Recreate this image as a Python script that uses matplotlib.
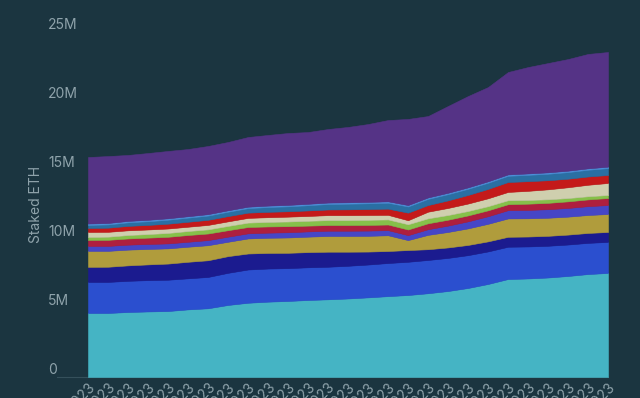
import numpy as np
import pandas as pd
import matplotlib
matplotlib.use("Agg")
import matplotlib.pyplot as plt

# weekly dates (labels are mostly cut off at the bottom, only the "23" shows)
dates = pd.date_range("2023-01-02", periods=27, freq="7D")
labels = [d.strftime("%b %d, %Y") for d in dates]

# staked ETH per entity, in millions (bottom layer first)
cyan = [4.64, 4.64, 4.71, 4.75, 4.78, 4.90, 4.98, 5.22, 5.38, 5.46, 5.51, 5.58, 5.63, 5.69,
        5.77, 5.86, 5.94, 6.07, 6.23, 6.45, 6.74, 7.10, 7.14, 7.21, 7.32, 7.46, 7.54]
blue = [2.25, 2.25, 2.26, 2.27, 2.27, 2.25, 2.27, 2.33, 2.41, 2.40, 2.38, 2.37, 2.36, 2.37,
        2.38, 2.40, 2.41, 2.41, 2.40, 2.38, 2.36, 2.34, 2.32, 2.30, 2.28, 2.26, 2.25]
navy = [1.09, 1.10, 1.12, 1.14, 1.17, 1.20, 1.21, 1.21, 1.16, 1.13, 1.11, 1.10, 1.09, 1.02,
        0.94, 0.87, 0.85, 0.78, 0.76, 0.74, 0.73, 0.72, 0.72, 0.72, 0.72, 0.72, 0.72]
gold = [1.16, 1.15, 1.14, 1.12, 1.10, 1.09, 1.09, 1.04, 1.09, 1.10, 1.11, 1.12, 1.14, 1.14,
        1.14, 1.14, 0.72, 1.04, 1.12, 1.20, 1.27, 1.33, 1.32, 1.31, 1.30, 1.30, 1.30]
indigo = [0.36, 0.36, 0.36, 0.36, 0.36, 0.36, 0.37, 0.37, 0.37, 0.37, 0.38, 0.38, 0.38, 0.38,
          0.38, 0.37, 0.36, 0.41, 0.46, 0.51, 0.55, 0.60, 0.61, 0.62, 0.63, 0.64, 0.65]
crimson = [0.43, 0.44, 0.45, 0.46, 0.48, 0.49, 0.48, 0.47, 0.46, 0.45, 0.44, 0.42, 0.41, 0.41,
           0.41, 0.41, 0.41, 0.43, 0.43, 0.43, 0.43, 0.43, 0.45, 0.46, 0.48, 0.49, 0.51]
green = [0.22, 0.23, 0.25, 0.26, 0.28, 0.29, 0.30, 0.31, 0.32, 0.33, 0.34, 0.35, 0.36, 0.36,
         0.37, 0.37, 0.38, 0.36, 0.34, 0.32, 0.30, 0.29, 0.27, 0.26, 0.24, 0.23, 0.22]
beige = [0.36, 0.35, 0.34, 0.33, 0.32, 0.31, 0.32, 0.33, 0.34, 0.34, 0.35, 0.35, 0.36, 0.36,
         0.35, 0.33, 0.29, 0.48, 0.51, 0.54, 0.57, 0.60, 0.66, 0.72, 0.78, 0.83, 0.87]
red = [0.29, 0.30, 0.32, 0.33, 0.35, 0.36, 0.37, 0.38, 0.38, 0.39, 0.39, 0.40, 0.41, 0.42,
       0.43, 0.45, 0.55, 0.48, 0.55, 0.62, 0.68, 0.72, 0.70, 0.66, 0.62, 0.60, 0.58]
teal = [0.22, 0.24, 0.26, 0.27, 0.29, 0.30, 0.31, 0.32, 0.33, 0.35, 0.36, 0.38, 0.40, 0.41,
        0.42, 0.43, 0.45, 0.45, 0.45, 0.45, 0.45, 0.45, 0.46, 0.47, 0.48, 0.49, 0.50]
skyblue = [0.10] * 27
purple = [4.82, 4.85, 4.78, 4.84, 4.88, 4.87, 4.94, 4.95, 5.05, 5.12, 5.21, 5.20, 5.33, 5.46,
          5.64, 5.89, 6.24, 5.90, 6.29, 6.62, 6.83, 7.42, 7.71, 7.92, 8.09, 8.29, 8.31]

layers = [cyan, blue, navy, gold, indigo, crimson, green, beige, red, teal, skyblue, purple]
colors = ["#45b4c4", "#2b4fcf", "#1b1b8f", "#b09c3c", "#4646c6", "#ae1f3f",
          "#86c04a", "#cfcfae", "#c41a1a", "#2a6fa3", "#4c8fd8", "#553386"]

bg = "#1b3540"
txt = "#8fa3ab"
plt.rcParams["font.family"] = ["Inter", "DejaVu Sans"]

fig = plt.figure(figsize=(6.4, 3.98), dpi=100, facecolor=bg)
ax = fig.add_axes([88 / 640, 21 / 398, 520 / 640, 345 / 398])
ax.set_facecolor(bg)

x = np.arange(len(dates))
vals = np.array(layers) * 1e6
polys = ax.stackplot(x, vals, colors=colors, linewidth=0.4)
for p, c in zip(polys, colors):
    p.set_edgecolor(c)

ax.set_xlim(0, len(dates) - 1)
ax.set_ylim(0, 25e6)
for s in ax.spines.values():
    s.set_visible(False)

# y ticks drawn as text sitting above the tick position
ax.set_yticks([])
for v in range(0, 26, 5):
    lab = "0" if v == 0 else f"{v}M"
    ax.text(-40 / 520, v * 1e6, lab, transform=ax.get_yaxis_transform(),
            ha="left", va="bottom", color=txt, fontsize=10)
ax.axhline(0, xmin=-31 / 520, xmax=1, color="#35505b", lw=0.8, clip_on=False, zorder=0)

ax.text(-52 / 520, 0.5, "Staked ETH", transform=ax.transAxes, rotation=90,
        ha="center", va="center", color=txt, fontsize=10)

ax.set_xticks(x)
ax.set_xticklabels(labels, rotation=45, ha="right", rotation_mode="anchor",
                   color=txt, fontsize=10)
ax.tick_params(axis="x", length=0, pad=3)

fig.savefig("out.png", dpi=100, facecolor=bg)
